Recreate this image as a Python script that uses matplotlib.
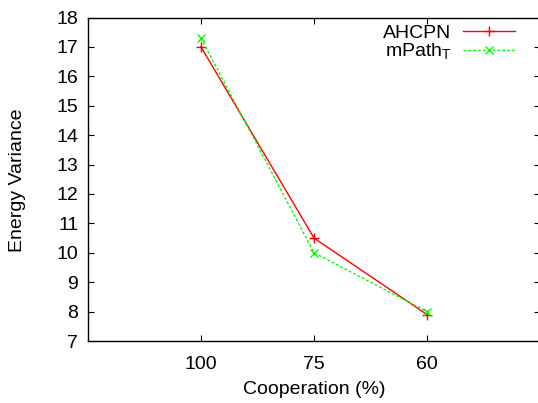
import matplotlib
matplotlib.use("Agg")
import matplotlib.pyplot as plt

categories = ["100", "75", "60"]
ahcpn = [17.0, 10.5, 7.9]
mpath = [17.3, 10.0, 8.0]
yticks = list(range(7, 19))

plt.rcParams['font.family'] = ['Liberation Sans', 'DejaVu Sans']
W, H = 538, 403
fig = plt.figure(figsize=(W/100, H/100), dpi=100)
l, r, t, b = 88, 540, 17.5, 341
ax = fig.add_axes([l/W, 1 - b/H, (r-l)/W, (b-t)/H])
x = list(range(1, len(categories)+1))
ax.plot(x, ahcpn, color='#ff0000', lw=1, marker='+', ms=7, mew=1, label='AHCPN')
ax.plot(x, mpath, color='#00ff00', lw=1, ls=(0, (2, 1.5)), marker='x', ms=6, mew=1, label='mPath$_\\mathregular{T}$')
ax.set_xlim(0, 4)
ax.set_ylim(7, 18)
ax.set_xticks(x)
ax.set_xticklabels(categories)
ax.set_yticks(yticks)
ax.tick_params(direction='in', top=True, right=True, length=4, width=0.8, labelsize=14)
ax.tick_params(axis='x', pad=11)
ax.tick_params(axis='y', pad=7)
for s in ax.spines.values():
    s.set_linewidth(1)
ax.set_xlabel('Cooperation (%)', fontsize=14, va='center')
ax.set_ylabel('Energy Variance', fontsize=14, va='center')
ax.xaxis.set_label_coords((314 - l)/(r - l), (b - 390)/(b - t))
ax.yaxis.set_label_coords((18 - l)/(r - l), (b - 180)/(b - t))
leg = ax.legend(loc='upper right', bbox_to_anchor=((530 - l)/(r - l), 1.0 + 8/(b - t)), frameon=False, fontsize=14,
                markerfirst=False, handlelength=2.7, handletextpad=0.6, labelspacing=0.0, borderpad=0.25)
for txt in leg.get_texts():
    txt.set_ha('right')
fig.savefig('out.png', dpi=100)
